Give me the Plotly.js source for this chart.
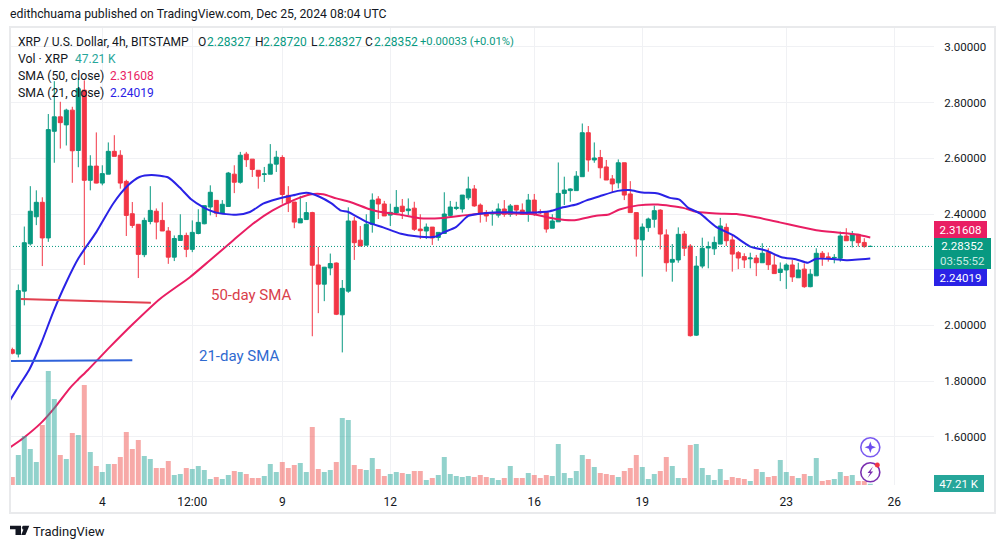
<!DOCTYPE html>
<html>
<head>
<meta charset="utf-8">
<script src="https://cdn.plot.ly/plotly-3.0.1.min.js"></script>
<style>html,body{margin:0;padding:0;background:#fff;overflow:hidden}#chart{width:1005px;height:548px}</style>
</head>
<body>
<div id="chart"></div>
<script>
const opens = [1.913,1.897,2.123,2.293,2.39,2.442,2.314,2.697,2.749,2.72,
2.773,2.628,2.845,2.521,2.572,2.511,2.543,2.625,2.611,2.517,
2.401,2.363,2.254,2.373,2.41,2.377,2.339,2.245,2.305,2.323,
2.273,2.33,2.365,2.425,2.449,2.403,2.427,2.543,2.514,2.615,
2.597,2.557,2.542,2.543,2.579,2.603,2.467,2.443,2.368,2.38,
2.405,2.217,2.148,2.206,2.224,2.038,2.123,2.375,2.306,2.288,
2.363,2.454,2.436,2.396,2.404,2.428,2.412,2.421,2.346,2.339,
2.353,2.316,2.33,2.395,2.42,2.418,2.458,2.49,2.432,2.405,
2.4,2.396,2.418,2.399,2.431,2.414,2.399,2.45,2.409,2.406,
2.349,2.372,2.474,2.484,2.484,2.534,2.692,2.594,2.603,2.569,
2.526,2.512,2.584,2.472,2.405,2.307,2.351,2.381,2.414,2.325,
2.227,2.235,2.328,2.285,1.965,2.213,2.278,2.275,2.292,2.352,
2.307,2.261,2.247,2.239,2.242,2.225,2.262,2.217,2.19,2.199,
2.217,2.171,2.202,2.139,2.178,2.259,2.246,2.242,2.241,2.321,
2.304,2.327,2.298,2.28327];
const closes = [1.90,2.125,2.297,2.41,2.442,2.314,2.703,2.749,2.728,2.773,
2.627,2.85,2.521,2.572,2.511,2.545,2.625,2.607,2.511,2.395,
2.359,2.255,2.377,2.413,2.371,2.339,2.245,2.312,2.323,2.273,
2.334,2.37,2.43,2.478,2.403,2.435,2.547,2.514,2.611,2.595,
2.56,2.536,2.544,2.579,2.604,2.47,2.44,2.371,2.383,2.405,
2.216,2.148,2.209,2.222,2.04,2.133,2.375,2.297,2.285,2.363,
2.45,2.436,2.393,2.406,2.424,2.409,2.418,2.345,2.34,2.353,
2.314,2.334,2.4,2.425,2.424,2.468,2.49,2.429,2.402,2.393,
2.405,2.418,2.399,2.429,2.414,2.399,2.45,2.399,2.404,2.346,
2.375,2.474,2.486,2.49,2.536,2.692,2.594,2.601,2.566,2.522,
2.508,2.584,2.468,2.405,2.31,2.353,2.382,2.412,2.328,2.225,
2.237,2.327,2.277,1.963,2.213,2.277,2.283,2.298,2.357,2.304,
2.256,2.242,2.235,2.242,2.225,2.259,2.218,2.186,2.202,2.217,
2.174,2.199,2.139,2.184,2.259,2.244,2.244,2.244,2.321,2.304,
2.328,2.297,2.283,2.28352];
const highs = [1.92,2.147,2.355,2.50,2.485,2.46,2.759,2.877,2.803,2.778,
2.785,2.89,2.88,2.611,2.693,2.575,2.657,2.683,2.629,2.523,
2.443,2.363,2.387,2.5,2.42,2.442,2.353,2.323,2.399,2.333,
2.377,2.417,2.43,2.503,2.449,2.45,2.551,2.575,2.623,2.623,
2.597,2.557,2.569,2.651,2.627,2.611,2.5,2.443,2.465,2.443,
2.408,2.282,2.21,2.258,2.226,2.163,2.424,2.39,2.357,2.399,
2.474,2.464,2.447,2.437,2.486,2.454,2.456,2.444,2.399,2.366,
2.353,2.334,2.478,2.447,2.444,2.468,2.534,2.504,2.438,2.414,
2.414,2.438,2.45,2.436,2.431,2.438,2.472,2.472,2.417,2.406,
2.399,2.585,2.534,2.492,2.554,2.725,2.716,2.657,2.63,2.594,
2.54,2.596,2.584,2.518,2.405,2.366,2.387,2.43,2.417,2.345,
2.292,2.352,2.339,2.292,2.249,2.315,2.301,2.319,2.386,2.366,
2.325,2.267,2.259,2.261,2.253,2.295,2.277,2.255,2.226,2.223,
2.235,2.225,2.223,2.202,2.277,2.267,2.262,2.256,2.337,2.349,
2.339,2.327,2.313,2.2872];
const lows = [1.896,1.885,2.072,2.287,2.36,2.213,2.30,2.584,2.635,2.646,
2.512,2.568,2.217,2.485,2.51,2.503,2.543,2.607,2.491,2.321,
2.35,2.17,2.245,2.363,2.309,2.339,2.221,2.231,2.305,2.245,
2.263,2.327,2.363,2.395,2.389,2.403,2.427,2.475,2.509,2.569,
2.533,2.491,2.515,2.543,2.551,2.437,2.407,2.349,2.368,2.38,
1.961,2.044,2.087,2.18,2.037,1.903,2.117,2.235,2.285,2.288,
2.333,2.382,2.393,2.357,2.398,2.382,2.396,2.339,2.31,2.31,
2.289,2.304,2.33,2.39,2.414,2.405,2.45,2.426,2.369,2.372,
2.358,2.387,2.39,2.39,2.393,2.399,2.372,2.393,2.4,2.333,
2.349,2.372,2.432,2.444,2.484,2.534,2.552,2.584,2.528,2.522,
2.476,2.492,2.45,2.405,2.247,2.175,2.336,2.351,2.273,2.193,
2.157,2.225,2.249,1.96,1.962,2.205,2.205,2.253,2.292,2.285,
2.193,2.202,2.206,2.205,2.177,2.225,2.199,2.186,2.159,2.131,
2.156,2.171,2.135,2.137,2.178,2.214,2.229,2.223,2.229,2.304,
2.28,2.283,2.279,2.28327];
const volumesK = [320,1200,1960,1440,920,2400,4560,3440,1200,1040,
2080,2000,4000,1320,760,520,840,840,1120,2120,
1440,1800,1160,1040,680,680,960,400,440,680,
640,760,600,240,320,240,400,560,520,440,
280,280,360,840,520,920,680,800,880,520,
2320,640,520,600,920,2680,2600,800,640,600,
1080,640,360,440,520,480,440,560,560,200,
280,400,1120,440,360,320,360,320,400,320,
280,200,280,760,280,280,480,400,280,400,
360,1640,480,280,560,1200,1040,720,480,440,
400,320,560,680,1200,720,240,440,560,1120,
760,280,280,1600,1640,680,400,200,640,200,
320,280,240,160,640,520,320,360,1000,520,
360,280,440,360,1080,160,200,240,520,360,
400,160,160,47.21];
const sma21Index = [-0.45,1.2,2.8,4.8,6.8,9,11,14,16.8,19.3,21.2,23.2,26,27.9,29.8,31.8,34,37.3,39.6,41.8,44,46.8,49,51.2,53.2,54.8,55.9,59,61.8,64.8,67.3,70.4,71.8,74,76,79,82.3,86.2,89.6,91.8,94,95.7,97.9,100.9,102.9,105,107.6,109.6,111.2,112.6,114.6,117.3,120.1,122.9,125.7,128.2,130.7,132.6,134,136.8,139,143];
const sma21Values = [1.729,1.786,1.84,1.935,2.047,2.155,2.24,2.335,2.437,2.503,2.533,2.54,2.531,2.495,2.453,2.425,2.405,2.397,2.407,2.437,2.453,2.467,2.476,2.462,2.438,2.412,2.408,2.372,2.352,2.329,2.32,2.318,2.333,2.354,2.393,2.404,2.406,2.405,2.41,2.424,2.434,2.449,2.464,2.483,2.486,2.477,2.474,2.458,2.452,2.423,2.402,2.354,2.324,2.284,2.268,2.245,2.237,2.225,2.239,2.238,2.234,2.2402];
const sma50Index = [-0.45,1.8,4.8,7,9.6,10.9,12.6,16.2,20.1,24.6,29.6,32.9,36.8,40.1,43.4,46.8,49.6,51.8,54,56.2,59.6,61.2,65.1,67.9,71.8,75.7,79,83.4,86.8,90.7,93.7,97.3,99.4,101.2,104.3,107.6,111.8,114,117.3,120.7,124,127.9,131.2,134,137.9,140.7,143];
const sma50Values = [1.561,1.595,1.65,1.703,1.775,1.804,1.84,1.921,2.005,2.095,2.173,2.233,2.305,2.365,2.413,2.449,2.47,2.471,2.456,2.444,2.417,2.408,2.396,2.385,2.386,2.396,2.403,2.402,2.399,2.382,2.378,2.394,2.398,2.416,2.431,2.434,2.422,2.408,2.402,2.4,2.388,2.37,2.354,2.342,2.333,2.326,2.316];
const markup50Index = [1.4,23.1], markup50Values = [2.095,2.081];
const markup21Index = [-0.27,20], markup21Values = [1.872,1.875];
const xTickIndex = [15,30,45,63,87,105,129,147];
const xTickLabels = ["4","12:00","9","12","16","19","23","26"];
const priceTicks = [1.6,1.8,2.0,2.2,2.4,2.6,2.8,3.0];
const priceTickLabels = ["1.60000","1.80000","2.00000","","2.40000","2.60000","2.80000","3.00000"];

const UP='#089981', DOWN='#f23645', MA50='#e91e63', MA21='#2a22e6', INK='#131722';
const FONT='Roboto, "Noto Sans", sans-serif';
const candleIndex = opens.map((_,i)=>i);
const px = x => (x-10)/924, py = y => (485-y)/458;
const T = (x,y,text,color,size,anchor) => ({xref:'paper',yref:'paper',x:px(x),y:py(y),text:text,showarrow:false,
  xanchor:anchor||'left',yanchor:'middle',borderpad:0,borderwidth:0,font:{family:FONT,size:size||12,color:color||INK}});
const Box = (x,y,w,h,text,bg) => ({xref:'paper',yref:'paper',x:px(x),y:py(y),width:w,height:h,text:text,showarrow:false,
  xanchor:'left',yanchor:'top',align:'center',valign:'middle',bgcolor:bg,borderpad:0,borderwidth:0,font:{family:FONT,size:11.5,color:'#fff'}});
const P = pts => 'M'+pts.map(p=>px(p[0])+','+py(p[1])).join('L')+'Z';
const paperShape = o => Object.assign({xref:'paper',yref:'paper',layer:'above'},o);
const circle = (cx,cy,r,line,fill,w) => paperShape({type:'circle',x0:px(cx-r),x1:px(cx+r),y0:py(cy+r),y1:py(cy-r),
  line:{color:line,width:w},fillcolor:fill});

const traces = [
  {type:'scatter',mode:'lines',x:sma50Index,y:sma50Values,line:{color:MA50,width:2,shape:'spline',smoothing:0.6},hoverinfo:'skip',showlegend:false},
  {type:'scatter',mode:'lines',x:sma21Index,y:sma21Values,line:{color:MA21,width:2,shape:'spline',smoothing:0.6},hoverinfo:'skip',showlegend:false},
  {type:'scatter',mode:'lines',x:markup50Index,y:markup50Values,line:{color:'#e2404f',width:2},hoverinfo:'skip',showlegend:false},
  {type:'scatter',mode:'lines',x:markup21Index,y:markup21Values,line:{color:'#2f62da',width:2},hoverinfo:'skip',showlegend:false},
  {type:'candlestick',x:candleIndex,open:opens,high:highs,low:lows,close:closes,whiskerwidth:0,
    increasing:{line:{color:UP,width:1},fillcolor:UP},decreasing:{line:{color:DOWN,width:1},fillcolor:DOWN},showlegend:false},
  {type:'bar',x:candleIndex,y:volumesK,yaxis:'y2',
    marker:{color:candleIndex.map(i=>closes[i]>=opens[i]?'rgba(38,166,154,0.5)':'rgba(239,83,80,0.5)'),line:{width:0}},showlegend:false}
];

const layout = {
  width:1005,height:548,autosize:false,paper_bgcolor:'#fff',plot_bgcolor:'#fff',
  margin:{l:10,r:71,t:27,b:63,pad:0},showlegend:false,bargap:0.17,boxgap:0.33,boxgroupgap:0,
  font:{family:FONT,color:INK,size:12},
  xaxis:{type:'linear',range:[-0.383,153.62],rangeslider:{visible:false},tickmode:'array',tickvals:xTickIndex,ticktext:xTickLabels,
    showgrid:true,gridcolor:'#f0f1f4',gridwidth:1,zeroline:false,showline:false,ticks:'outside',ticklen:6,tickcolor:'rgba(0,0,0,0)',tickfont:{family:FONT,size:12,color:INK}},
  yaxis:{side:'right',range:[1.4269,3.0715],tickmode:'array',tickvals:priceTicks,ticktext:priceTickLabels,showgrid:true,gridcolor:'#f0f1f4',gridwidth:1,
    zeroline:false,showline:false,ticks:'outside',ticklen:7,tickcolor:'rgba(0,0,0,0)',tickfont:{family:FONT,size:11.5,color:INK}},
  yaxis2:{overlaying:'y',side:'right',range:[0,18320],visible:false,showgrid:false,zeroline:false},
  shapes:[
    {type:'line',xref:'paper',yref:'y',x0:0,x1:1,y0:closes[143],y1:closes[143],line:{color:UP,width:1,dash:'1px,2px'},layer:'above'},
    paperShape({type:'rect',x0:px(10),x1:px(995),y0:py(513),y1:py(27),line:{color:'#e9eaec',width:2},fillcolor:'rgba(0,0,0,0)'}),
    circle(870.3,447.3,9.5,'#7a5af0','#fff',1.6),
    paperShape({type:'path',path:P([[870.3,441.5],[871.8,445.8],[876,447.3],[871.8,448.8],[870.3,453],[868.8,448.8],[864.6,447.3],[868.8,445.8]]),fillcolor:'#6b4df0',line:{width:0}}),
    circle(870.3,472.3,9.5,'#7b2fb0','#fff',1.6),
    paperShape({type:'path',path:P([[873,466.5],[867.5,473],[870.2,473],[867.5,478],[873.2,471.5],[870.5,471.5]]),fillcolor:'#7b2fb0',line:{width:0}}),
    circle(877.3,465,2.3,'#f23645','#f23645',0.5),
    paperShape({type:'path',path:P([[10,525.7],[21,525.7],[21,535],[15.5,535],[15.5,529.2],[10,529.2]]),fillcolor:INK,line:{width:0}}),
    circle(24,527.7,1.9,INK,INK,0.3),
    paperShape({type:'path',path:P([[25,525.7],[29.3,525.7],[25.4,535],[21.2,535]]),fillcolor:INK,line:{width:0}})
  ],
  annotations:[
    T(10,14,'edithchuama published on TradingView.com, Dec 25, 2024 08:04 UTC',INK,12.25),
    T(18,41.5,'XRP / U.S. Dollar, 4h, BITSTAMP',INK,12.1),
    T(198,41.5,'O',INK,12),T(207,41.5,'2.28327',UP,12),
    T(255,41.5,'H',INK,12),T(263,41.5,'2.28720',UP,12),
    T(311,41.5,'L',INK,12),T(318,41.5,'2.28327',UP,12),
    T(365,41.5,'C',INK,12),T(374,41.5,'2.28352',UP,12),
    T(420,41.5,'+0.00033 (+0.01%)',UP,11.2),
    T(18,59,'Vol · XRP',INK,12.3),T(75,59,'47.21 K','#26a69a',12),
    T(18,76,'SMA (50, close)',INK,12.3),T(110,76,'2.31608',MA50,12),
    T(18,92.7,'SMA (21, close)',INK,12.3),T(110,92.7,'2.24019',MA21,12),
    T(211,295,'50-day SMA','#d9404a',15),
    T(199,356,'21-day SMA','#2f6ad0',15),
    Box(934,221,53,17,'2.31608',MA50),
    Box(934,238,57,31,'2.28352<br><span style="color:#c9ebe4">03:55:52</span>',UP),
    Box(934,269,53,17,'2.24019',MA21),
    Box(934,475,50,17,'47.21 K','#26a69a'),
    T(33,531,'TradingView',INK,13)
  ]
};
Plotly.newPlot('chart',traces,layout,{displayModeBar:false,staticPlot:true});
</script>
</body>
</html>
